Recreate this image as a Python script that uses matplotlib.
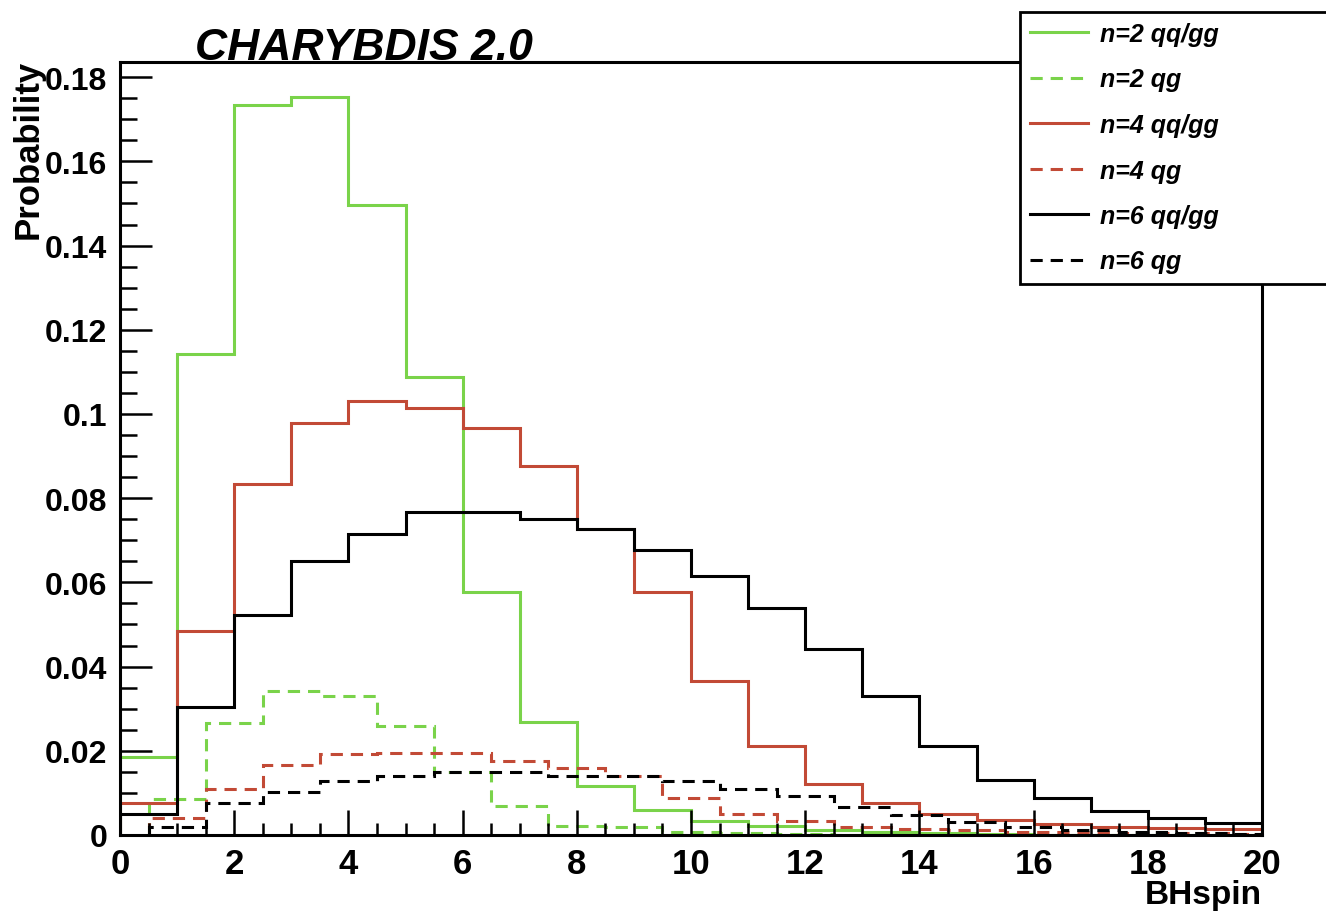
import numpy as np
import matplotlib
matplotlib.use("Agg")
import matplotlib.pyplot as plt
from matplotlib.lines import Line2D
from matplotlib.ticker import MultipleLocator, FuncFormatter

# Black-hole spin distributions (probability per unit spin)
# qq/gg initial states: integer spin bins [0,1), [1,2), ... [19,20)
spin_edges_int = np.arange(0, 21, 1.0)
# qg initial states: half-integer spin bins [0.5,1.5), ... [19.5,20.5)
spin_edges_half = np.arange(0.5, 21, 1.0)

n2_qqgg = [0.0185, 0.1143, 0.1734, 0.1752, 0.1497, 0.1088, 0.0578, 0.0269, 0.0117, 0.0060,
           0.0034, 0.0022, 0.0013, 0.0008, 0.0004, 0.0002, 0.0001, 0.0001, 0.0000, 0.0000]
n2_qg = [0.0085, 0.0266, 0.0341, 0.0330, 0.0258, 0.0149, 0.0068, 0.0021, 0.0018, 0.0008,
         0.0004, 0.0002, 0.0001, 0.0001, 0.0000, 0.0000, 0.0000, 0.0000, 0.0000, 0.0000]
n4_qqgg = [0.0076, 0.0485, 0.0833, 0.0979, 0.1030, 0.1015, 0.0967, 0.0876, 0.0726, 0.0578,
           0.0366, 0.0212, 0.0121, 0.0077, 0.0050, 0.0036, 0.0026, 0.0020, 0.0016, 0.0014]
n4_qg = [0.0040, 0.0110, 0.0166, 0.0193, 0.0195, 0.0194, 0.0176, 0.0158, 0.0139, 0.0088,
         0.0051, 0.0034, 0.0019, 0.0015, 0.0011, 0.0008, 0.0006, 0.0005, 0.0004, 0.0003]
n6_qqgg = [0.0050, 0.0304, 0.0522, 0.0650, 0.0714, 0.0766, 0.0766, 0.0750, 0.0726, 0.0677,
           0.0615, 0.0540, 0.0441, 0.0330, 0.0212, 0.0131, 0.0087, 0.0058, 0.0040, 0.0028]
n6_qg = [0.0020, 0.0076, 0.0103, 0.0129, 0.0141, 0.0149, 0.0149, 0.0141, 0.0141, 0.0129,
         0.0110, 0.0093, 0.0066, 0.0047, 0.0030, 0.0019, 0.0012, 0.0008, 0.0005, 0.0003]

labels = ["n=2 qq/gg", "n=2 qg", "n=4 qq/gg", "n=4 qg", "n=6 qq/gg", "n=6 qg"]

GREEN = "#7ad34a"
RED = "#c24a36"
BLACK = "#000000"
DASH = (0, (4, 2.6))
LW = 2.2

plt.rcParams["font.family"] = ["Liberation Sans", "DejaVu Sans"]

fig = plt.figure(figsize=(13.26, 9.12), dpi=100)
fig.patch.set_facecolor("white")
ax = fig.add_axes([120 / 1326, 1 - 836 / 912, (1262 - 120) / 1326, (836 - 63) / 912])

series = [
    (n2_qqgg, spin_edges_int, GREEN, "-"),
    (n2_qg, spin_edges_half, GREEN, DASH),
    (n4_qqgg, spin_edges_int, RED, "-"),
    (n4_qg, spin_edges_half, RED, DASH),
    (n6_qqgg, spin_edges_int, BLACK, "-"),
    (n6_qg, spin_edges_half, BLACK, DASH),
]
for vals, edges, col, ls in series:
    ax.stairs(vals, edges, baseline=0, fill=False, color=col, linestyle=ls,
              linewidth=LW, clip_on=True)

ax.set_xlim(0, 20)
ax.set_ylim(0, 0.1836)

ax.xaxis.set_major_locator(MultipleLocator(2))
ax.xaxis.set_minor_locator(MultipleLocator(0.5))
ax.yaxis.set_major_locator(MultipleLocator(0.02))
ax.yaxis.set_minor_locator(MultipleLocator(0.005))
ax.yaxis.set_major_formatter(FuncFormatter(lambda v, p: "%g" % round(v, 4)))
ax.xaxis.set_major_formatter(FuncFormatter(lambda v, p: "%g" % v))

ax.tick_params(axis="both", which="both", direction="in", top=False, right=False,
               width=1.8, colors="black")
ax.tick_params(axis="x", which="major", length=18, labelsize=25, pad=9)
ax.tick_params(axis="x", which="minor", length=9)
ax.tick_params(axis="y", which="major", length=23, labelsize=23, pad=9)
ax.tick_params(axis="y", which="minor", length=12)
for lab in ax.get_xticklabels() + ax.get_yticklabels():
    lab.set_fontweight("bold")
for sp in ax.spines.values():
    sp.set_linewidth(2.2)

fig.text(28 / 1326, 1 - 60 / 912, "Probability", rotation=90, ha="center", va="top",
         fontsize=25, fontweight="bold")
fig.text(1262 / 1326, 1 - 904 / 912, "BHspin", ha="right", va="baseline",
         fontsize=24, fontweight="bold")
fig.text(195 / 1326, 1 - 60 / 912, "CHARYBDIS 2.0", ha="left", va="baseline",
         fontsize=32, fontweight="bold", fontstyle="italic")

handles = [Line2D([], [], color=c, linestyle=ls, linewidth=LW)
           for _, _, c, ls in series]
x0, y0 = 1020 / 1326, 1 - 285 / 912
leg = fig.legend(handles, labels, loc="upper left",
                 bbox_to_anchor=(x0, y0, 1 - x0 + 0.01, 1 - 13 / 912 - y0),
                 mode="expand", borderaxespad=0, fancybox=False, framealpha=1,
                 edgecolor="black", facecolor="white", borderpad=0.4,
                 labelspacing=0.86, handlelength=2.3, handletextpad=0.5,
                 prop={"size": 18, "weight": "bold", "style": "italic"})
leg.get_frame().set_linewidth(2.0)
leg.set_zorder(10)

fig.savefig("out.png", dpi=100, facecolor="white")
